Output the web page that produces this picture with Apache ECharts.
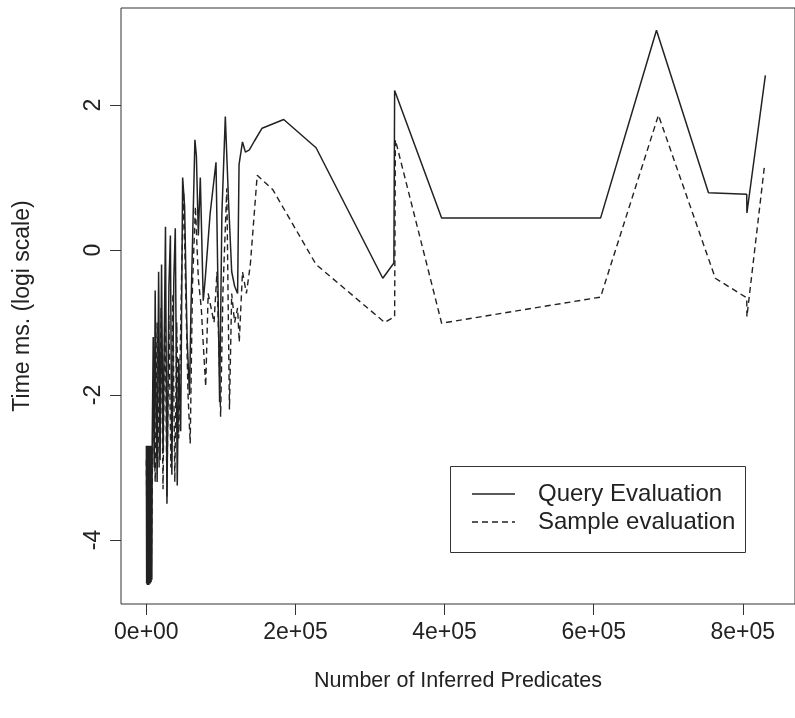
<!DOCTYPE html>
<html>
<head>
<meta charset="utf-8">
<script src="https://cdn.jsdelivr.net/npm/echarts@6/dist/echarts.min.js"></script>
<style>html,body{margin:0;padding:0;background:#fff}#c{width:795px;height:718px}</style>
</head>
<body>
<div id="c"></div>
<script>
// Query Evaluation (solid): x = number of inferred predicates, y = log time
var queryX = [0,400,900,1400,1900,2400,2900,3400,3900,4400,4900,5400,5900,6400,6900,7400,7890,9210,10530,11840,13160,14470,16450,18420,20390,22370,25660,27630,30260,32240,34210,36840,38820,41450,43420,46050,48680,51320,54610,57890,59870,65130,67110,69740,72370,76320,78950,85530,93420,96050,98290,101320,105920,107890,110530,114470,118420,122370,124340,128950,132890,138160,144740,155260,184210,227630,317110,332000,333000,396050,609210,684210,753950,805260,805500,830260];
var queryY = [-2.7,-4.6,-2.7,-4.62,-2.72,-4.6,-2.7,-4.62,-2.75,-4.6,-2.7,-4.6,-2.7,-4.58,-2.7,-4.55,-2.6,-1.2,-3.0,-0.56,-2.2,-3.2,-0.3,-2.9,-0.2,-2.8,0.32,-3.5,-0.5,0.2,-3.1,-0.4,0.3,-3.25,-1.5,-2.5,1.0,0.6,-1.2,-2.0,-0.8,1.52,1.3,0.2,1.0,-0.7,-0.4,0.5,1.21,-0.5,-2.1,0.5,1.84,1.3,0.6,-0.3,-0.5,-0.6,1.18,1.49,1.35,1.38,1.5,1.68,1.8,1.41,-0.39,-0.18,2.2,0.44,0.44,3.03,0.79,0.77,0.51,2.41];
// Sample evaluation (dashed)
var sampleX = [0,1320,3950,6580,9210,11840,14470,17110,19740,22370,25000,27630,30260,32890,35530,38160,40790,43420,47370,50000,52630,55920,58820,61840,65790,69740,73680,76320,79610,82890,86840,90790,94740,99610,102630,107890,111450,114470,118420,122370,124610,128950,134210,139470,148680,169740,227630,319740,333000,334000,396050,609210,686840,763160,805260,805500,828950];
var sampleY = [-2.9,-4.6,-3.0,-4.5,-2.0,-3.2,-1.0,-3.0,-0.8,-3.3,-0.6,-3.4,-0.9,-3.0,-0.6,-3.2,-1.0,-2.6,-0.3,0.8,-0.5,-2.0,-2.67,-0.5,0.6,-0.4,-0.8,-1.3,-1.88,-0.6,-0.8,-1.0,-0.3,-2.3,-0.6,0.85,-2.2,-0.6,-1.0,-0.8,-1.27,-0.3,-0.6,-0.2,1.03,0.83,-0.2,-1.0,-0.92,1.52,-1.01,-0.65,1.86,-0.39,-0.66,-0.92,1.15];
var xTicks = [0,200000,400000,600000,800000];
var xTickLabels = ['0e+00','2e+05','4e+05','6e+05','8e+05'];
var yTicks = [-4,-2,0,2];
var seriesNames = ['Query Evaluation','Sample evaluation'];

function zip(a,b){var r=[];for(var i=0;i<a.length;i++)r.push([a[i],b[i]]);return r;}
var FONT = '"Liberation Sans", Arial, sans-serif';
var TXT = '#222';
var LC = '#222';
var chart = echarts.init(document.getElementById('c'), null, {renderer:'canvas'});
chart.setOption({
  animation:false,
  backgroundColor:'#fff',
  grid:{left:121, top:8, width:687, height:596, show:true, borderColor:'#333', borderWidth:1, backgroundColor:'transparent'},
  xAxis:{type:'value', min:-34000, max:870000,
    name:'Number of Inferred Predicates', nameLocation:'middle', nameGap:66,
    nameTextStyle:{fontFamily:FONT, fontSize:21.5, color:TXT},
    axisLine:{show:false, onZero:false}, splitLine:{show:false},
    axisTick:{show:true, length:11, inside:false, customValues:xTicks, lineStyle:{color:'#333'}},
    axisLabel:{customValues:xTicks, margin:17, fontFamily:FONT, fontSize:23, color:TXT,
      formatter:function(v){var i=xTicks.indexOf(v);return i>=0?xTickLabels[i]:'';}}
  },
  yAxis:{type:'value', min:-4.883, max:3.338,
    name:'Time ms. (logi scale)', nameLocation:'middle', nameGap:87, nameRotate:90,
    nameTextStyle:{fontFamily:FONT, fontSize:23, color:TXT},
    axisLine:{show:false, onZero:false}, splitLine:{show:false},
    axisTick:{show:true, length:11, inside:false, customValues:yTicks, lineStyle:{color:'#333'}},
    axisLabel:{customValues:yTicks, rotate:90, margin:16, fontFamily:FONT, fontSize:23, color:TXT}
  },
  graphic:[
    {type:'rect', shape:{x:450.5, y:466.5, width:295, height:86}, style:{fill:'#fff', stroke:'#333', lineWidth:1}, z:100},
    {type:'line', shape:{x1:472, y1:494, x2:515, y2:494}, style:{stroke:LC, lineWidth:1.4}, z:101},
    {type:'line', shape:{x1:472, y1:522, x2:515, y2:522}, style:{stroke:LC, lineWidth:1.4, lineDash:[6,4]}, z:101},
    {type:'text', x:538, y:494, style:{text:seriesNames[0], font:'24px "Liberation Sans", Arial, sans-serif', fill:TXT, textVerticalAlign:'middle', verticalAlign:'middle'}, z:101},
    {type:'text', x:538, y:522, style:{text:seriesNames[1], font:'24px "Liberation Sans", Arial, sans-serif', fill:TXT, textVerticalAlign:'middle', verticalAlign:'middle'}, z:101}
  ],
  series:[
    {name:seriesNames[0], type:'line', data:zip(queryX,queryY), showSymbol:false, symbol:'none',
     lineStyle:{color:LC, width:1.5, type:'solid'}, itemStyle:{color:LC}},
    {name:seriesNames[1], type:'line', data:zip(sampleX,sampleY), showSymbol:false, symbol:'none',
     lineStyle:{color:LC, width:1.4, type:[6,4]}, itemStyle:{color:LC}}
  ]
});
</script>
</body>
</html>
